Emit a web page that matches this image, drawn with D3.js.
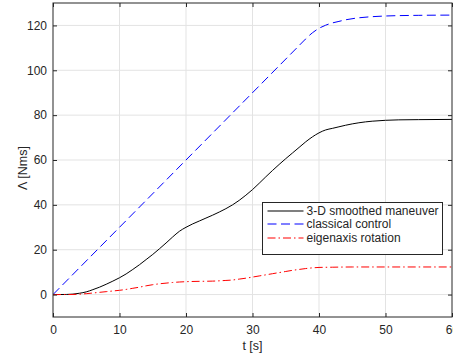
<!DOCTYPE html>
<html>
<head>
<meta charset="utf-8">
<script src="https://cdn.jsdelivr.net/npm/d3@7"></script>
<style>
  body { margin: 0; background: #fff; }
  svg { display: block; font-family: 'Liberation Sans', Arial, sans-serif; }
</style>
</head>
<body>
<div id="chart"></div>
<script>
const width = 453;
const height = 358;
const padding = {
  top: 3,
  bottom: 41,
  left: 53,
  right: 1,
};
const axisColor = '#262626';
const gridColor = '#e3e3e3';

const xTicks = [0, 10, 20, 30, 40, 50, 60];
const yTicks = [0, 20, 40, 60, 80, 100, 120];

// 3-D smoothed maneuver
const smoothT = [0, 2, 3, 4, 5, 6, 7, 8, 9, 10, 11, 12, 13, 14, 15, 16, 17, 18, 19, 20,
  21, 22, 23, 24, 25, 26, 27, 28, 29, 30, 31, 32, 33, 34, 35, 36, 37, 38, 39, 40,
  41, 42, 43, 44, 45, 46, 47, 48, 50, 52, 55, 60];
const smoothV = [0, 0.05, 0.2, 0.6, 1.2, 2.2, 3.3, 4.6, 6, 7.5, 9.2, 11.2, 13.3, 15.6, 17.9, 20.4, 23, 25.7, 28.2, 30,
  31.5, 32.8, 34.1, 35.4, 36.8, 38.3, 40, 42, 44.3, 46.8, 49.6, 52.5, 55.3, 58, 60.6, 63.1, 65.6, 68.1, 70.3, 72.1,
  73.4, 74.1, 74.8, 75.5, 76.1, 76.6, 77.0, 77.3, 77.7, 77.9, 78, 78.1];

// classical control
const classicT = [0, 37, 38, 39, 40, 41, 42, 43, 44, 46, 48, 50, 55, 60];
const classicV = [0, 111, 114, 116.7, 118.7, 120.1, 121.1, 121.8, 122.5, 123.4, 123.9, 124.2, 124.5, 124.6];

// eigenaxis rotation
const eigenT = [0, 3, 4, 5, 6, 7, 8, 9, 10, 11, 12, 13, 14, 15, 16, 17, 18, 19, 20, 22, 24, 26, 27,
  28, 29, 30, 31, 32, 33, 34, 35, 36, 37, 38, 39, 40, 42, 45, 50, 60];
const eigenV = [0, 0.05, 0.2, 0.4, 0.7, 1.0, 1.3, 1.6, 1.9, 2.3, 2.8, 3.3, 3.9, 4.4, 4.8, 5.1, 5.4, 5.6, 5.75, 5.9, 6.0, 6.3, 6.5,
  6.9, 7.3, 7.8, 8.3, 8.8, 9.3, 9.8, 10.3, 10.8, 11.2, 11.6, 11.9, 12.1, 12.2, 12.3, 12.3, 12.3];

const series = [
  { name: '3-D smoothed maneuver', t: smoothT, v: smoothV, color: '#000000', dash: null },
  { name: 'classical control', t: classicT, v: classicV, color: '#0000ff', dash: '9,4.5' },
  { name: 'eigenaxis rotation', t: eigenT, v: eigenV, color: '#ff0000', dash: '8,3,1.5,3' },
];

const svg = d3.select('#chart')
  .append('svg')
  .attr('width', width)
  .attr('height', height);

const x = d3.scaleLinear()
  .domain([0, 60])
  .range([padding.left, width - padding.right]);
const y = d3.scaleLinear()
  .domain([-10, 130])
  .range([height - padding.bottom, padding.top]);

// grid
const grid = svg.append('g').attr('class', 'grid');
grid.selectAll('line.gx')
  .data(xTicks.slice(1, -1))
  .enter().append('line')
    .attr('x1', d => x(d)).attr('x2', d => x(d))
    .attr('y1', y.range()[0]).attr('y2', y.range()[1])
    .attr('stroke', gridColor);
grid.selectAll('line.gy')
  .data(yTicks)
  .enter().append('line')
    .attr('y1', d => y(d)).attr('y2', d => y(d))
    .attr('x1', x.range()[0]).attr('x2', x.range()[1])
    .attr('stroke', gridColor);

// lines
svg.append('clipPath').attr('id', 'plot-clip')
  .append('rect')
    .attr('x', x.range()[0]).attr('y', y.range()[1])
    .attr('width', x.range()[1] - x.range()[0])
    .attr('height', y.range()[0] - y.range()[1]);

const line = d3.line()
  .x(d => x(d[0]))
  .y(d => y(d[1]))
  .curve(d3.curveMonotoneX);

svg.append('g')
  .attr('clip-path', 'url(#plot-clip)')
  .selectAll('path')
  .data(series)
  .enter().append('path')
    .attr('d', s => line(d3.zip(s.t, s.v)))
    .attr('fill', 'none')
    .attr('stroke', s => s.color)
    .attr('stroke-width', 1)
    .attr('stroke-dasharray', s => s.dash);

// axes, matlab-style box with inward ticks
const customAxis = g => {
  g.select('.domain').remove();
  g.selectAll('.tick line').attr('stroke', axisColor);
  g.selectAll('.tick text')
    .attr('fill', axisColor)
    .style('font-size', '12px');
};

svg.append('g')
  .attr('transform', `translate(0, ${y.range()[0]})`)
  .call(d3.axisBottom(x).tickValues(xTicks).tickSizeInner(-4).tickSizeOuter(0).tickPadding(8))
  .call(customAxis);
svg.append('g')
  .attr('transform', `translate(0, ${y.range()[1]})`)
  .call(d3.axisTop(x).tickValues(xTicks).tickSizeInner(-4).tickSizeOuter(0).tickFormat(''))
  .call(customAxis);
svg.append('g')
  .attr('transform', `translate(${x.range()[0]}, 0)`)
  .call(d3.axisLeft(y).tickValues(yTicks).tickSizeInner(-4).tickSizeOuter(0).tickPadding(6))
  .call(customAxis);
svg.append('g')
  .attr('transform', `translate(${x.range()[1]}, 0)`)
  .call(d3.axisRight(y).tickValues(yTicks).tickSizeInner(-4).tickSizeOuter(0).tickFormat(''))
  .call(customAxis);

svg.append('rect')
  .attr('x', x.range()[0]).attr('y', y.range()[1])
  .attr('width', x.range()[1] - x.range()[0])
  .attr('height', y.range()[0] - y.range()[1])
  .attr('fill', 'none')
  .attr('stroke', axisColor)
  .attr('stroke-width', 1);

// axis labels
svg.append('text')
  .attr('x', (x.range()[0] + x.range()[1]) / 2)
  .attr('y', 350)
  .attr('text-anchor', 'middle')
  .attr('fill', axisColor)
  .style('font-size', '12.5px')
  .text('t [s]');
svg.append('text')
  .attr('transform', 'translate(27, 168) rotate(-90)')
  .attr('text-anchor', 'middle')
  .attr('fill', axisColor)
  .style('font-size', '12.5px')
  .text('Λ [Nms]');

// legend
const legend = svg.append('g').attr('transform', 'translate(262.5, 202.5)');
legend.append('rect')
  .attr('width', 180).attr('height', 52)
  .attr('fill', '#fff')
  .attr('stroke', axisColor)
  .attr('stroke-width', 1);
const items = legend.selectAll('g.item')
  .data(series)
  .enter().append('g')
    .attr('class', 'item')
    .attr('transform', (d, i) => `translate(0, ${8 + i * 13.5})`);
// sample lines sit between pixel rows, like the antialiased plot lines
items.append('line')
  .attr('x1', 5).attr('x2', 41)
  .attr('y1', (d, i) => (i % 2 ? 0 : 0.5))
  .attr('y2', (d, i) => (i % 2 ? 0 : 0.5))
  .attr('stroke', d => d.color)
  .attr('stroke-width', 1.1)
  .attr('stroke-dasharray', d => d.dash);
items.append('text')
  .attr('x', 44)
  .attr('dy', '0.35em')
  .attr('fill', axisColor)
  .style('font-size', '12px')
  .text(d => d.name);
</script>
</body>
</html>
